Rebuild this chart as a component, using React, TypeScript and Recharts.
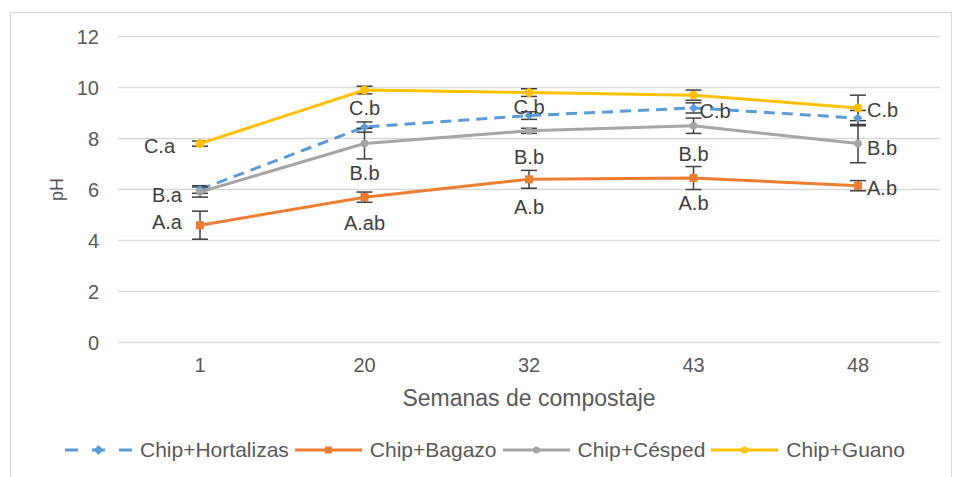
import React from 'react';
import { LineChart, Line, XAxis, YAxis, CartesianGrid, ErrorBar, LabelList, Legend } from 'recharts';

const weeks = ['1', '20', '32', '43', '48'];
const hortalizas = [6.0, 8.45, 8.9, 9.2, 8.8];
const hortalizasErr = [0.15, 0.2, 0.15, 0.2, 0.3];
const bagazo = [4.6, 5.7, 6.4, 6.45, 6.15];
const bagazoErr = [0.55, 0.2, 0.35, 0.45, 0.2];
const cesped = [5.9, 7.8, 8.3, 8.5, 7.8];
const cespedErr = [0.2, 0.6, 0.1, 0.3, 0.75];
const guano = [7.8, 9.9, 9.8, 9.7, 9.2];
const guanoErr = [0.1, 0.15, 0.15, 0.2, 0.5];
const bagazoLabels = ['A.a', 'A.ab', 'A.b', 'A.b', 'A.b'];
const cespedLabels = ['B.a', 'B.b', 'B.b', 'B.b', 'B.b'];
const guanoLabels = ['C.a', 'C.b', 'C.b', 'C.b', 'C.b'];
const yTicks = [0, 2, 4, 6, 8, 10, 12];
const seriesNames = ['Chip+Hortalizas', 'Chip+Bagazo', 'Chip+Césped', 'Chip+Guano'];

const COLORS = { hort: '#5b9bd5', bag: '#ed7d31', ces: '#a5a5a5', gua: '#ffc000' };
const FONT = '"Liberation Sans", Arial, sans-serif';

type Place = { side: 'left' | 'right' | 'below'; gap: number; dy: number };
const guanoPlace: Place[] = [
  { side: 'left', gap: 25, dy: 2 },
  { side: 'below', gap: 0, dy: 18 },
  { side: 'below', gap: 0, dy: 14 },
  { side: 'right', gap: 6, dy: 16 },
  { side: 'right', gap: 9, dy: 2 },
];
const cespedPlace: Place[] = [
  { side: 'left', gap: 18, dy: 3 },
  { side: 'below', gap: 0, dy: 29 },
  { side: 'below', gap: 0, dy: 26 },
  { side: 'below', gap: 0, dy: 28 },
  { side: 'right', gap: 9, dy: 4 },
];
const bagazoPlace: Place[] = [
  { side: 'left', gap: 18, dy: -3 },
  { side: 'below', gap: 0, dy: 26 },
  { side: 'below', gap: 0, dy: 28 },
  { side: 'below', gap: 0, dy: 25 },
  { side: 'right', gap: 9, dy: 2 },
];

const data = weeks.map((w, i) => ({
  week: w,
  hort: hortalizas[i],
  hortErr: hortalizasErr[i],
  bag: bagazo[i],
  bagErr: bagazoErr[i],
  ces: cesped[i],
  cesErr: cespedErr[i],
  gua: guano[i],
  guaErr: guanoErr[i],
}));

const makeLabel = (texts: string[], places: Place[]) => (props: any) => {
  const { x, y, index } = props;
  const p = places[index];
  const t = texts[index];
  if (!p || x == null || y == null) return null;
  let tx = x;
  let anchor: 'start' | 'middle' | 'end' = 'middle';
  if (p.side === 'left') {
    tx = x - p.gap;
    anchor = 'end';
  } else if (p.side === 'right') {
    tx = x + p.gap;
    anchor = 'start';
  }
  return (
    <text
      key={`lbl-${index}`}
      x={tx}
      y={y + p.dy}
      textAnchor={anchor}
      dominantBaseline="central"
      fontSize={20}
      fontFamily={FONT}
      fill="#404040"
    >
      {t}
    </text>
  );
};

const circleDot = (color: string, r: number) => (props: any) => {
  const { cx, cy, index } = props;
  if (cx == null || cy == null) return <g key={`d-${index}`} />;
  return <circle key={`d-${index}`} cx={cx} cy={cy} r={r} fill={color} stroke={color} />;
};
const squareDot = (color: string, s: number) => (props: any) => {
  const { cx, cy, index } = props;
  if (cx == null || cy == null) return <g key={`d-${index}`} />;
  return <rect key={`d-${index}`} x={cx - s / 2} y={cy - s / 2} width={s} height={s} fill={color} />;
};
const diamondDot = (color: string, s: number) => (props: any) => {
  const { cx, cy, index } = props;
  if (cx == null || cy == null) return <g key={`d-${index}`} />;
  return (
    <path
      key={`d-${index}`}
      d={`M${cx},${cy - s} L${cx + s},${cy} L${cx},${cy + s} L${cx - s},${cy} Z`}
      fill={color}
    />
  );
};

const LegendIcon = ({ kind }: { kind: number }) => {
  const colors = [COLORS.hort, COLORS.bag, COLORS.ces, COLORS.gua];
  const c = colors[kind];
  return (
    <svg width={67} height={20} style={{ display: 'block' }}>
      {kind === 0 ? (
        <g>
          <line x1={0} y1={10} x2={13} y2={10} stroke={c} strokeWidth={3} />
          <line x1={27} y1={10} x2={40} y2={10} stroke={c} strokeWidth={3} />
          <line x1={54} y1={10} x2={67} y2={10} stroke={c} strokeWidth={3} />
          <path d="M33.5,5 L38.5,10 L33.5,15 L28.5,10 Z" fill={c} />
        </g>
      ) : (
        <g>
          <line x1={0} y1={10} x2={67} y2={10} stroke={c} strokeWidth={3} />
          {kind === 1 ? (
            <rect x={30} y={6.5} width={7} height={7} fill={c} />
          ) : (
            <circle cx={33.5} cy={10} r={3.5} fill={c} />
          )}
        </g>
      )}
    </svg>
  );
};

const renderLegend = () => (
  <div
    style={{
      display: 'flex',
      alignItems: 'center',
      paddingLeft: 65,
      height: 54,
      fontFamily: FONT,
      fontSize: 21,
      color: '#595959',
    }}
  >
    {seriesNames.map((n, i) => (
      <div key={n} style={{ display: 'flex', alignItems: 'center', marginRight: 6 }}>
        <LegendIcon kind={i} />
        <span style={{ marginLeft: 8, whiteSpace: 'nowrap' }}>{n}</span>
      </div>
    ))}
  </div>
);

const PhLabel = (props: any) => {
  const vb = props.viewBox || { x: 0, y: 36.5, width: 118, height: 306 };
  const cx = vb.x + 57;
  const cy = vb.y + vb.height / 2;
  return (
    <text
      x={cx}
      y={cy}
      transform={`rotate(-90 ${cx} ${cy})`}
      textAnchor="middle"
      dominantBaseline="central"
      fontSize={18}
      fontFamily={FONT}
      fill="#595959"
    >
      pH
    </text>
  );
};

export default function App() {
  const tickStyle = { fontSize: 20, fontFamily: FONT, fill: '#595959' };
  return (
    <div
      style={{
        position: 'absolute',
        left: 0,
        top: 0,
        width: 954,
        height: 477,
        overflow: 'hidden',
        background: '#ffffff',
      }}
    >
      <div
        style={{
          position: 'absolute',
          left: 10,
          top: 12,
          width: 942,
          height: 480,
          border: '1px solid #d9d9d9',
          boxSizing: 'border-box',
        }}
      />
      <div style={{ position: 'absolute', left: 0, top: 0 }}>
        <LineChart
          width={954}
          height={477}
          data={data}
          margin={{ top: 36.5, right: 14, bottom: 0, left: 0 }}
        >
          <CartesianGrid horizontal vertical={false} stroke="#d9d9d9" strokeWidth={1.5} />
          <XAxis
            dataKey="week"
            type="category"
            height={80}
            padding={{ left: 82, right: 82 }}
            axisLine={false}
            tickLine={false}
            tickMargin={9}
            tick={tickStyle}
            label={{
              value: 'Semanas de compostaje',
              position: 'insideBottom',
              offset: 17,
              fontSize: 23,
              fontFamily: FONT,
              fill: '#595959',
            }}
          />
          <YAxis
            width={118}
            domain={[0, 12]}
            ticks={yTicks}
            axisLine={false}
            tickLine={false}
            tickMargin={13}
            tick={tickStyle}
            label={<PhLabel />}
          />
          <Legend
            verticalAlign="bottom"
            height={54.5}
            content={renderLegend}
            wrapperStyle={{ left: 0, width: 954, bottom: 0 }}
          />
          <Line
            dataKey="hort"
            name="Chip+Hortalizas"
            stroke={COLORS.hort}
            strokeWidth={3}
            strokeDasharray="11 7"
            dot={diamondDot(COLORS.hort, 4.5)}
            isAnimationActive={false}
          >
            <ErrorBar dataKey="hortErr" direction="y" width={8} stroke="#404040" strokeWidth={1.5} />
          </Line>
          <Line
            dataKey="bag"
            name="Chip+Bagazo"
            stroke={COLORS.bag}
            strokeWidth={3}
            dot={squareDot(COLORS.bag, 8)}
            isAnimationActive={false}
          >
            <ErrorBar dataKey="bagErr" direction="y" width={8} stroke="#404040" strokeWidth={1.5} />
            <LabelList dataKey="bag" content={makeLabel(bagazoLabels, bagazoPlace)} />
          </Line>
          <Line
            dataKey="ces"
            name="Chip+Césped"
            stroke={COLORS.ces}
            strokeWidth={3}
            dot={circleDot(COLORS.ces, 3.5)}
            isAnimationActive={false}
          >
            <ErrorBar dataKey="cesErr" direction="y" width={8} stroke="#404040" strokeWidth={1.5} />
            <LabelList dataKey="ces" content={makeLabel(cespedLabels, cespedPlace)} />
          </Line>
          <Line
            dataKey="gua"
            name="Chip+Guano"
            stroke={COLORS.gua}
            strokeWidth={3}
            dot={circleDot(COLORS.gua, 4)}
            isAnimationActive={false}
          >
            <ErrorBar dataKey="guaErr" direction="y" width={8} stroke="#404040" strokeWidth={1.5} />
            <LabelList dataKey="gua" content={makeLabel(guanoLabels, guanoPlace)} />
          </Line>
        </LineChart>
      </div>
    </div>
  );
}
